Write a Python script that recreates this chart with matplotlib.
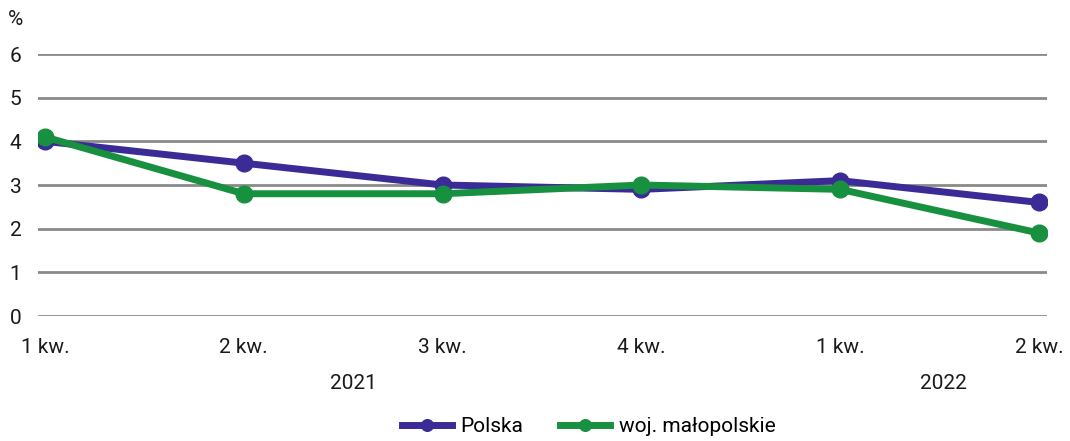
import matplotlib
matplotlib.use("Agg")
import matplotlib.pyplot as plt

# data
quarters = ["1 kw.", "2 kw.", "3 kw.", "4 kw.", "1 kw.", "2 kw."]
polska = [4.0, 3.5, 3.0, 2.9, 3.1, 2.6]
malopolskie = [4.1, 2.8, 2.8, 3.0, 2.9, 1.9]
years = ["2021", "2022"]
year_pos = [1.55, 4.52]

PURPLE = "#3a2b96"
GREEN = "#17903f"
GRID = "#8a8a8a"
TEXT = "#1a1a1a"

plt.rcParams["font.family"] = ["Roboto", "DejaVu Sans"]

fig = plt.figure(figsize=(10.70, 4.41), dpi=100)
ax = fig.add_axes([38 / 1070, 1 - 316 / 441, (1047 - 38) / 1070, (316 - 54) / 441])

x = list(range(len(quarters)))
ax.plot(x, polska, "o-", color=PURPLE, linewidth=5, markersize=12,
        label="Polska", zorder=3)
ax.plot(x, malopolskie, "o-", color=GREEN, linewidth=5, markersize=12,
        label="woj. małopolskie", zorder=4)

ax.set_xlim(-0.035, 5.04)
ax.set_ylim(0, 6)
ax.set_yticks(range(0, 7))
ax.yaxis.grid(True, color=GRID, linewidth=2)
ax.set_axisbelow(True)
for s in ax.spines.values():
    s.set_visible(False)
ax.tick_params(axis="both", length=0, labelsize=15, colors=TEXT)
ax.tick_params(axis="y", pad=12)
ax.tick_params(axis="x", pad=16)
ax.set_xticks(x)
ax.set_xticklabels(quarters)

for yr, xp in zip(years, year_pos):
    ax.text(xp, -0.256, yr, transform=ax.get_xaxis_transform(), ha="center",
            va="center", fontsize=15, color=TEXT)
ax.text(-0.03, 1.13, "%", transform=ax.transAxes, fontsize=15, color=TEXT,
        ha="left", va="center")

fig.legend(loc="center", bbox_to_anchor=(0.55, 0.032), ncol=2, frameon=False,
           fontsize=15, handlelength=2.4, columnspacing=1.8, handletextpad=0.4,
           markerscale=0.7, borderpad=0)

fig.savefig("out.png", dpi=100)
